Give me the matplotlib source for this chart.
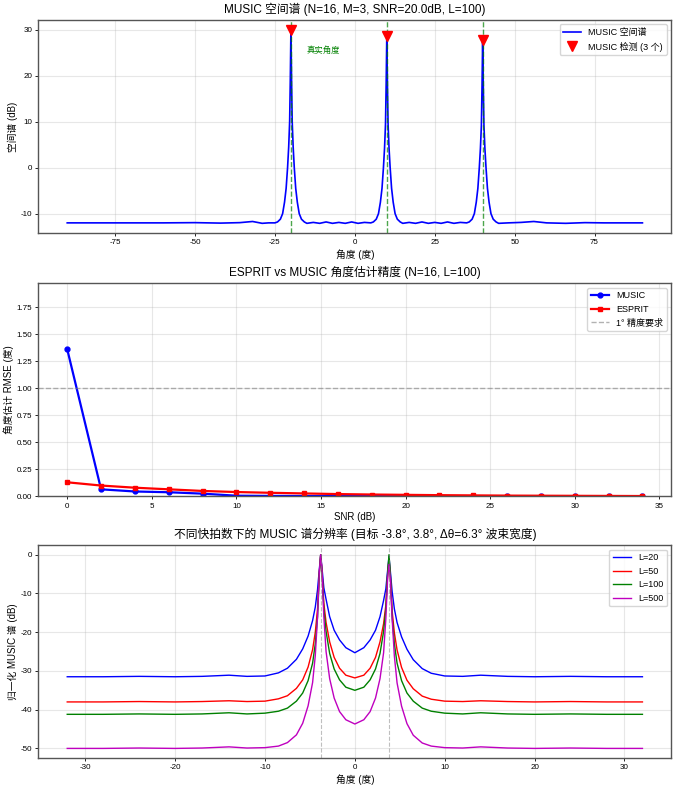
import matplotlib
matplotlib.use('Agg')
import matplotlib.pyplot as plt
import numpy as np

plt.rcParams['font.family'] = ['Liberation Sans', 'Noto Sans CJK SC', 'DejaVu Sans']
plt.rcParams['axes.unicode_minus'] = False

# ---- Panel 1: MUSIC spatial spectrum ----
theta_true = [-20, 10, 40]
theta_top = [-90, -80, -70, -60, -50, -42, -36, -32, -29, -27,
             -25, -24.2, -23.3, -22.6, -22, -21.5, -21.05, -20.7, -20.4, -20.2, -20,
             -19.8, -19.6, -19.3, -18.95, -18.5, -18, -17.4, -16.7, -15.8, -15,
             -13, -11, -9, -7, -5, -3, -1, 1, 3, 5,
             5.8, 6.7, 7.4, 8, 8.5, 8.95, 9.3, 9.6, 9.8, 10,
             10.2, 10.4, 10.7, 11.05, 11.5, 12, 12.6, 13.3, 14.2, 15,
             17, 19, 21, 23, 25, 27, 29, 31, 33, 35,
             35.8, 36.7, 37.4, 38, 38.5, 38.95, 39.3, 39.6, 39.8, 40,
             40.2, 40.4, 40.7, 41.05, 41.5, 42, 42.6, 43.3, 44.2, 45,
             48, 52, 56, 60, 66, 72, 78, 84, 90]
spec_top = [-12.0, -12.0, -12.0, -12.0, -11.95, -12.05, -11.95, -11.7, -12.1, -12.0,
            -12.0, -11.8, -11.2, -10.0, -7.5, -4.5, 0.0, 4.5, 10.0, 19.0, 30.0,
            19.0, 10.0, 4.5, 0.0, -4.5, -7.5, -10.0, -11.2, -11.8, -12.1,
            -11.9, -12.1, -11.8, -12.1, -11.9, -12.1, -11.8, -12.1, -11.9, -12.0,
            -11.8, -11.2, -10.0, -7.5, -4.5, 0.0, 4.3, 9.5, 18.0, 28.7,
            18.0, 9.5, 4.3, 0.0, -4.5, -7.5, -10.0, -11.2, -11.8, -12.1,
            -11.9, -12.1, -11.8, -12.1, -11.9, -12.1, -11.8, -12.1, -11.9, -12.0,
            -11.8, -11.2, -10.0, -7.5, -4.5, 0.0, 4.2, 9.2, 17.5, 27.8,
            17.5, 9.2, 4.2, 0.0, -4.5, -7.5, -10.0, -11.2, -11.8, -12.1,
            -12.0, -11.9, -11.7, -12.0, -12.1, -11.95, -12.0, -12.0, -12.0]
det_angles = [-20, 10, 40]
det_values = [30.0, 28.7, 27.8]

# ---- Panel 2: RMSE vs SNR ----
snr_db = [0, 2, 4, 6, 8, 10, 12, 14, 16, 18, 20, 22, 24, 26, 28, 30, 32, 34]
rmse_music = [1.36, 0.065, 0.045, 0.038, 0.025, 0.006, 0.004, 0.003, 0.002, 0.002,
              0.001, 0.001, 0.001, 0.001, 0.001, 0.0, 0.0, 0.0]
rmse_esprit = [0.13, 0.10, 0.08, 0.065, 0.05, 0.04, 0.033, 0.027, 0.021, 0.017,
               0.014, 0.011, 0.009, 0.007, 0.006, 0.005, 0.004, 0.003]

# ---- Panel 3: resolution vs snapshots ----
theta_res = [-32, -28, -24, -20, -17, -14, -12, -10, -8.5, -7.5, -6.5, -5.8, -5.2,
             -4.7, -4.4, -4.15, -3.95, -3.8, -3.65, -3.45, -3.2, -2.8, -2.3, -1.7, -1, 0,
             1, 1.7, 2.3, 2.8, 3.2, 3.45, 3.65, 3.8, 3.95, 4.15, 4.4, 4.7,
             5.2, 5.8, 6.5, 7.5, 8.5, 10, 12, 14, 17, 20, 24, 28, 32]
spec_L20 = [-31.5, -31.5, -31.4, -31.5, -31.4, -31.1, -31.4, -31.3, -30.5, -29.3, -27.0, -24.3, -21.0,
            -17.0, -13.5, -9.0, -3.7, 0.0, -3.5, -8.5, -11.5, -16.0, -19.5, -22.0, -24.0, -25.3,
            -24.0, -22.0, -19.5, -16.0, -11.8, -8.8, -4.0, -0.5, -4.2, -9.5, -14.0, -17.5,
            -21.2, -24.4, -27.1, -29.4, -30.6, -31.3, -31.4, -31.1, -31.4, -31.5, -31.4, -31.5, -31.5]
spec_L50 = [-38.0, -38.0, -37.9, -38.0, -37.9, -37.7, -37.9, -37.8, -37.2, -36.4, -34.5, -32.3, -29.0,
            -24.5, -20.0, -14.0, -4.5, 0.0, -4.3, -12.5, -17.5, -22.5, -26.5, -29.3, -31.1, -31.8,
            -31.1, -29.3, -26.5, -22.5, -17.8, -13.0, -5.2, -1.0, -5.5, -14.5, -20.2, -24.6,
            -29.1, -32.4, -34.6, -36.5, -37.3, -37.8, -37.9, -37.7, -37.9, -38.0, -37.9, -38.0, -38.0]
spec_L100 = [-41.2, -41.2, -41.1, -41.2, -41.1, -40.8, -41.1, -40.9, -40.4, -39.6, -37.8, -35.7, -32.5,
             -28.0, -23.0, -16.0, -5.0, 0.0, -4.8, -14.0, -19.8, -25.5, -29.5, -32.3, -34.2, -35.0,
             -34.2, -32.3, -29.5, -25.5, -19.8, -14.0, -4.8, 0.0, -5.0, -16.0, -23.0, -28.0,
             -32.5, -35.7, -37.8, -39.6, -40.4, -40.9, -41.1, -40.8, -41.1, -41.2, -41.1, -41.2, -41.2]
spec_L500 = [-50.0, -50.0, -49.9, -50.0, -49.9, -49.6, -49.9, -49.8, -49.4, -48.5, -46.5, -43.5, -39.0,
             -33.0, -26.0, -16.0, -4.5, 0.0, -4.3, -16.0, -25.0, -32.0, -37.0, -40.5, -42.6, -43.7,
             -42.6, -40.5, -37.0, -32.0, -25.3, -16.5, -6.0, -2.5, -6.2, -16.5, -26.2, -33.1,
             -39.1, -43.6, -46.6, -48.6, -49.4, -49.8, -49.9, -49.6, -49.9, -50.0, -49.9, -50.0, -50.0]
snapshots = [20, 50, 100, 500]
res_targets = [-3.8, 3.8]

fig = plt.figure(figsize=(6.87, 7.98), dpi=100)
ax1 = fig.add_axes([0.056, 0.708, 0.921, 0.267])
ax2 = fig.add_axes([0.056, 0.378, 0.921, 0.267])
ax3 = fig.add_axes([0.056, 0.050, 0.921, 0.267])

for ax in (ax1, ax2, ax3):
    ax.grid(True, alpha=0.3)
    ax.tick_params(labelsize=5.8, length=2.5, width=0.6, pad=2)
    for sp in ax.spines.values():
        sp.set_edgecolor('#555555')
        sp.set_linewidth(1.0)

# Panel 1
ax1.plot(theta_top, spec_top, 'b-', linewidth=1.2, label='MUSIC 空间谱')
for t in theta_true:
    ax1.axvline(t, color='green', linestyle='--', linewidth=1.0, alpha=0.7)
ax1.text(theta_true[0] + 5, 25, '真实角度', color='green', fontsize=6)
ax1.plot(det_angles, det_values, 'rv', markersize=7, label='MUSIC 检测 (3 个)')
ax1.set_xlabel('角度 (度)', fontsize=7, labelpad=2)
ax1.set_ylabel('空间谱 (dB)', fontsize=7, labelpad=2)
ax1.set_title('MUSIC 空间谱 (N=16, M=3, SNR=20.0dB, L=100)', fontsize=8.5, pad=5)
ax1.set_xticks([-75, -50, -25, 0, 25, 50, 75])
ax1.legend(loc='upper right', fontsize=6.5)

# Panel 2
ax2.plot(snr_db, rmse_music, 'bo-', linewidth=1.6, markersize=3.5, label='MUSIC')
ax2.plot(snr_db, rmse_esprit, 'rs-', linewidth=1.6, markersize=3.5, label='ESPRIT')
ax2.axhline(1.0, color='gray', linestyle='--', linewidth=1.0, alpha=0.6, label='1° 精度要求')
ax2.set_ylim(0, 1.97)
ax2.set_xlabel('SNR (dB)', fontsize=7, labelpad=2)
ax2.set_ylabel('角度估计 RMSE (度)', fontsize=7, labelpad=2)
ax2.set_title('ESPRIT vs MUSIC 角度估计精度 (N=16, L=100)', fontsize=8.5, pad=5)
ax2.legend(loc='upper right', fontsize=6.5)

# Panel 3
colors = ['b', 'r', 'g', 'm']
for L, spec, c in zip(snapshots, [spec_L20, spec_L50, spec_L100, spec_L500], colors):
    ax3.plot(theta_res, spec, color=c, linewidth=1.0, label=f'L={L}')
for t in res_targets:
    ax3.axvline(t, color='gray', linestyle='--', linewidth=0.8, alpha=0.5)
ax3.set_xlabel('角度 (度)', fontsize=7, labelpad=2)
ax3.set_ylabel('归一化 MUSIC 谱 (dB)', fontsize=7, labelpad=2)
ax3.set_title('不同快拍数下的 MUSIC 谱分辨率 (目标 -3.8°, 3.8°, Δθ=6.3° 波束宽度)', fontsize=8.5, pad=5)
ax3.legend(loc='upper right', fontsize=6.5)

fig.savefig('out.png', dpi=100)
